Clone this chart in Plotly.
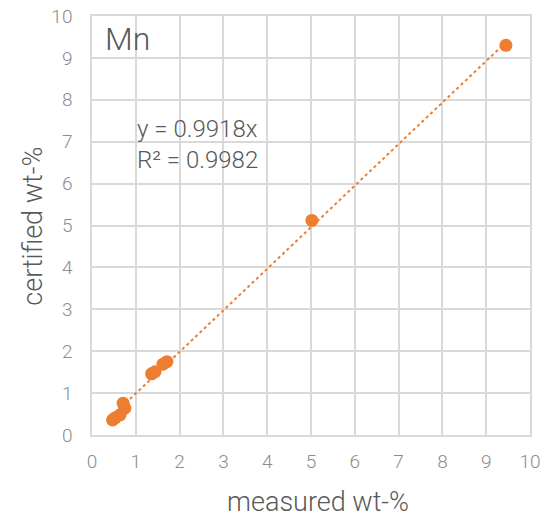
import plotly.graph_objects as go

measured = [0.47, 0.53, 0.64, 0.75, 0.71, 1.36, 1.44, 1.62, 1.71, 5.02, 9.45]
certified = [0.36, 0.41, 0.48, 0.64, 0.76, 1.46, 1.51, 1.69, 1.75, 5.12, 9.30]
slope = 0.9918
trend_x = [min(measured), max(measured)]
trend_y = [slope * v for v in trend_x]
ticks = list(range(0, 11))

orange = "#ED7D31"
grid = "#D9D9D9"
txt = "#595959"
tick_col = "#8C8C8C"
font_family = "Roboto"

fig = go.Figure()
fig.add_trace(go.Scatter(x=trend_x, y=trend_y, mode="lines",
                         line=dict(color=orange, width=2, dash="dot"),
                         hoverinfo="skip", showlegend=False))
fig.add_trace(go.Scatter(x=measured, y=certified, mode="markers",
                         marker=dict(color=orange, size=13),
                         showlegend=False))

axis_common = dict(range=[0, 10], tickvals=ticks, showgrid=True, gridcolor=grid,
                   gridwidth=1.5, zeroline=False, showline=True, linecolor=grid,
                   linewidth=1.5, mirror=True, ticks="", automargin=False,
                   tickfont=dict(family=font_family, size=19, color=tick_col, weight=300))
fig.update_xaxes(**axis_common, ticklabelstandoff=8)
fig.update_yaxes(**axis_common, ticklabelstandoff=14)

fig.add_annotation(x=0.5157, y=0, xref="paper", yref="paper", yshift=-67,
                   text="measured wt-%", showarrow=False, xanchor="center", yanchor="middle",
                   font=dict(family=font_family, size=27, color=txt, weight=300))
fig.add_annotation(x=0, y=0.497, xref="paper", yref="paper", xshift=-59, textangle=-90,
                   text="certified wt-%", showarrow=False, xanchor="center", yanchor="middle",
                   font=dict(family=font_family, size=27, color=txt, weight=300))

fig.add_annotation(x=0.24, y=9.45, xref="x", yref="y", text="Mn", showarrow=False,
                   xanchor="left", yanchor="middle",
                   font=dict(family=font_family, size=32, color=txt, weight=300))
fig.add_annotation(x=0.98, y=6.93, xref="x", yref="y", text="y = 0.9918x<br>R² = 0.9982",
                   showarrow=False, xanchor="left", yanchor="middle", align="left",
                   font=dict(family=font_family, size=24, color=txt, weight=300))

fig.update_layout(width=541, height=516, margin=dict(l=92, r=11, t=16, b=81),
                  plot_bgcolor="white", paper_bgcolor="white")
fig.write_html("out.html")
